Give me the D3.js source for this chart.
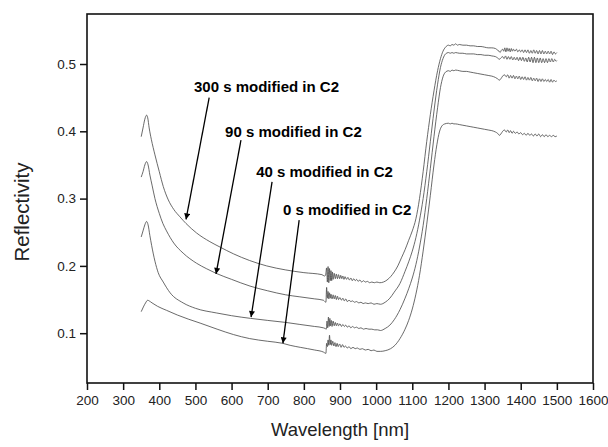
<!DOCTYPE html>
<html>
<head>
<meta charset="utf-8">
<script src="https://cdn.jsdelivr.net/npm/d3@7/dist/d3.min.js"></script>
<style>
  body { margin: 0; background: white; }
  svg { display: block; font-family: Arial, "Liberation Sans", sans-serif; }
</style>
</head>
<body>
<script>
// spectra, [wavelength nm, reflectivity]
const s300 = [
  [350, 0.392], [355, 0.405], [360, 0.418], [365, 0.424], [368, 0.420], [372, 0.405],
  [378, 0.388], [388, 0.365], [400, 0.340], [411, 0.318], [425, 0.298], [440, 0.284],
  [457, 0.273], [474, 0.263], [503, 0.249], [540, 0.236], [568, 0.228], [605, 0.218],
  [650, 0.208], [697, 0.200], [750, 0.194], [800, 0.190], [850, 0.187], [857, 0.185],
  [860, 0.186], [863, 0.197], [865, 0.176], [867, 0.199], [869, 0.175], [871, 0.196],
  [873, 0.178], [875, 0.193], [877, 0.178], [879, 0.191], [881, 0.180], [884, 0.189],
  [887, 0.181], [890, 0.188], [893, 0.181], [896, 0.187], [899, 0.181], [902, 0.186],
  [905, 0.181], [908, 0.185], [911, 0.180], [914, 0.184], [918, 0.180], [922, 0.183],
  [926, 0.179], [930, 0.182], [934, 0.178], [938, 0.181], [942, 0.178], [946, 0.180],
  [950, 0.177], [955, 0.179], [960, 0.176], [965, 0.178], [970, 0.176], [976, 0.177],
  [982, 0.175], [988, 0.176], [995, 0.175], [1002, 0.176], [1010, 0.175], [1020, 0.176],
  [1030, 0.179], [1040, 0.184], [1050, 0.191], [1060, 0.200], [1070, 0.212], [1080, 0.224],
  [1090, 0.238], [1100, 0.252], [1110, 0.270], [1120, 0.300], [1130, 0.340], [1140, 0.385],
  [1150, 0.425], [1160, 0.460], [1170, 0.490], [1178, 0.508], [1185, 0.519], [1192, 0.525],
  [1200, 0.528], [1205, 0.527], [1210, 0.529], [1215, 0.528], [1220, 0.530], [1225, 0.528],
  [1230, 0.529], [1240, 0.528], [1250, 0.528], [1260, 0.527], [1270, 0.527], [1280, 0.526],
  [1290, 0.526], [1300, 0.525], [1310, 0.524], [1320, 0.524], [1330, 0.523], [1335, 0.521],
  [1340, 0.519], [1343, 0.517], [1346, 0.520], [1350, 0.522], [1353, 0.519], [1356, 0.524],
  [1359, 0.518], [1362, 0.524], [1365, 0.519], [1368, 0.523], [1371, 0.518], [1374, 0.523],
  [1377, 0.519], [1380, 0.522], [1384, 0.519], [1388, 0.522], [1392, 0.518], [1396, 0.521],
  [1400, 0.518], [1404, 0.521], [1408, 0.517], [1412, 0.521], [1416, 0.517], [1420, 0.521],
  [1424, 0.516], [1428, 0.520], [1432, 0.516], [1436, 0.521], [1440, 0.516], [1444, 0.520],
  [1448, 0.515], [1452, 0.520], [1456, 0.515], [1460, 0.520], [1464, 0.515], [1468, 0.519],
  [1472, 0.515], [1476, 0.519], [1480, 0.515], [1484, 0.519], [1488, 0.514], [1492, 0.518],
  [1496, 0.515], [1500, 0.517]
]

const s90 = [
  [350, 0.332], [355, 0.340], [360, 0.350], [365, 0.355], [369, 0.350], [374, 0.335],
  [380, 0.320], [388, 0.300], [400, 0.278], [410, 0.263], [420, 0.252], [440, 0.234],
  [466, 0.219], [503, 0.204], [530, 0.196], [557, 0.189], [600, 0.180], [651, 0.170],
  [700, 0.163], [750, 0.157], [789, 0.154], [830, 0.151], [854, 0.149], [858, 0.147],
  [861, 0.146], [863, 0.168], [865, 0.152], [867, 0.162], [869, 0.151], [871, 0.160],
  [873, 0.152], [875, 0.158], [878, 0.151], [881, 0.157], [884, 0.151], [887, 0.156],
  [890, 0.150], [893, 0.155], [896, 0.150], [900, 0.153], [904, 0.149], [908, 0.152],
  [912, 0.148], [916, 0.151], [920, 0.147], [925, 0.149], [930, 0.147], [935, 0.148],
  [940, 0.146], [946, 0.147], [952, 0.145], [958, 0.146], [964, 0.144], [970, 0.145],
  [978, 0.144], [986, 0.145], [994, 0.143], [1002, 0.144], [1012, 0.143], [1025, 0.146],
  [1038, 0.152], [1050, 0.161], [1066, 0.174], [1080, 0.192], [1090, 0.206], [1100, 0.222],
  [1110, 0.242], [1120, 0.268], [1130, 0.300], [1140, 0.340], [1150, 0.385], [1160, 0.430],
  [1170, 0.470], [1178, 0.495], [1185, 0.508], [1192, 0.515], [1200, 0.517], [1205, 0.516],
  [1210, 0.517], [1215, 0.516], [1220, 0.517], [1230, 0.516], [1240, 0.516], [1250, 0.515],
  [1260, 0.515], [1270, 0.515], [1280, 0.514], [1290, 0.514], [1300, 0.513], [1310, 0.513],
  [1320, 0.512], [1330, 0.511], [1336, 0.509], [1341, 0.507], [1345, 0.509], [1350, 0.511],
  [1354, 0.508], [1358, 0.512], [1362, 0.507], [1366, 0.511], [1370, 0.507], [1374, 0.511],
  [1378, 0.506], [1382, 0.510], [1386, 0.506], [1390, 0.510], [1394, 0.505], [1398, 0.510],
  [1402, 0.505], [1406, 0.510], [1410, 0.504], [1414, 0.509], [1418, 0.503], [1422, 0.510],
  [1426, 0.503], [1430, 0.510], [1434, 0.502], [1438, 0.510], [1442, 0.502], [1446, 0.509],
  [1450, 0.502], [1454, 0.509], [1458, 0.502], [1462, 0.508], [1466, 0.502], [1470, 0.508],
  [1474, 0.502], [1478, 0.508], [1482, 0.503], [1486, 0.508], [1490, 0.503], [1494, 0.507],
  [1498, 0.504], [1500, 0.505]
]

const s40 = [
  [350, 0.243], [355, 0.252], [360, 0.261], [365, 0.266], [369, 0.261], [374, 0.245],
  [379, 0.230], [388, 0.207], [397, 0.190], [411, 0.176], [430, 0.160], [466, 0.145],
  [500, 0.137], [559, 0.130], [600, 0.126], [653, 0.122], [700, 0.119], [750, 0.116],
  [789, 0.113], [830, 0.110], [854, 0.108], [859, 0.107], [862, 0.106], [864, 0.118],
  [866, 0.108], [868, 0.124], [870, 0.110], [872, 0.122], [874, 0.111], [876, 0.119],
  [878, 0.110], [881, 0.118], [884, 0.111], [887, 0.116], [890, 0.111], [893, 0.115],
  [896, 0.111], [900, 0.114], [904, 0.110], [908, 0.113], [912, 0.110], [916, 0.112],
  [920, 0.109], [925, 0.111], [930, 0.108], [935, 0.110], [940, 0.108], [946, 0.109],
  [952, 0.107], [958, 0.108], [965, 0.106], [972, 0.107], [980, 0.106], [988, 0.106],
  [996, 0.105], [1004, 0.105], [1012, 0.104], [1025, 0.107], [1038, 0.112], [1050, 0.120],
  [1066, 0.135], [1080, 0.152], [1090, 0.166], [1100, 0.182], [1110, 0.202], [1120, 0.228],
  [1130, 0.260], [1140, 0.300], [1150, 0.345], [1160, 0.392], [1170, 0.435], [1178, 0.465],
  [1185, 0.481], [1192, 0.488], [1200, 0.490], [1205, 0.489], [1210, 0.491], [1215, 0.490],
  [1220, 0.491], [1230, 0.490], [1240, 0.489], [1250, 0.489], [1260, 0.488], [1270, 0.487],
  [1280, 0.486], [1290, 0.485], [1300, 0.484], [1310, 0.483], [1320, 0.482], [1330, 0.480],
  [1336, 0.478], [1341, 0.476], [1345, 0.478], [1350, 0.482], [1355, 0.484], [1360, 0.481],
  [1364, 0.484], [1368, 0.479], [1372, 0.483], [1376, 0.479], [1380, 0.483], [1384, 0.478],
  [1388, 0.482], [1392, 0.478], [1396, 0.482], [1400, 0.477], [1404, 0.481], [1408, 0.477],
  [1412, 0.481], [1416, 0.476], [1420, 0.480], [1424, 0.476], [1428, 0.480], [1432, 0.475],
  [1436, 0.479], [1440, 0.475], [1444, 0.479], [1448, 0.474], [1452, 0.478], [1456, 0.474],
  [1460, 0.478], [1464, 0.474], [1468, 0.477], [1472, 0.474], [1476, 0.477], [1480, 0.473],
  [1484, 0.477], [1488, 0.473], [1492, 0.476], [1496, 0.474], [1500, 0.475]
]

const s0 = [
  [350, 0.132], [356, 0.139], [362, 0.145], [368, 0.149], [372, 0.148], [380, 0.145],
  [395, 0.140], [420, 0.134], [450, 0.127], [480, 0.121], [513, 0.115], [560, 0.106],
  [605, 0.098], [650, 0.092], [700, 0.088], [741, 0.085], [762, 0.082], [790, 0.079],
  [830, 0.075], [854, 0.072], [857, 0.071], [861, 0.070], [863, 0.085], [865, 0.080],
  [867, 0.090], [869, 0.082], [871, 0.097], [873, 0.083], [875, 0.090], [877, 0.082],
  [880, 0.088], [883, 0.081], [886, 0.086], [889, 0.080], [892, 0.085], [895, 0.080],
  [899, 0.084], [903, 0.079], [907, 0.083], [911, 0.079], [915, 0.081], [920, 0.078],
  [925, 0.080], [930, 0.077], [936, 0.079], [942, 0.077], [948, 0.078], [955, 0.076],
  [962, 0.077], [970, 0.075], [978, 0.076], [986, 0.074], [994, 0.075], [1002, 0.073],
  [1012, 0.073], [1025, 0.074], [1040, 0.077], [1052, 0.082], [1066, 0.092], [1080, 0.106],
  [1090, 0.119], [1100, 0.136], [1110, 0.158], [1120, 0.186], [1130, 0.222], [1140, 0.262],
  [1150, 0.305], [1160, 0.350], [1168, 0.380], [1175, 0.399], [1182, 0.408], [1190, 0.411],
  [1200, 0.412], [1205, 0.411], [1210, 0.412], [1215, 0.411], [1220, 0.411], [1230, 0.410],
  [1240, 0.409], [1250, 0.408], [1260, 0.407], [1270, 0.406], [1280, 0.405], [1290, 0.404],
  [1300, 0.403], [1310, 0.402], [1320, 0.401], [1330, 0.399], [1336, 0.397], [1341, 0.394],
  [1345, 0.396], [1350, 0.400], [1355, 0.402], [1360, 0.399], [1364, 0.402], [1368, 0.398],
  [1372, 0.401], [1376, 0.397], [1380, 0.400], [1385, 0.397], [1390, 0.399], [1395, 0.396],
  [1400, 0.398], [1405, 0.395], [1410, 0.397], [1415, 0.394], [1420, 0.397], [1425, 0.394],
  [1430, 0.396], [1435, 0.393], [1440, 0.396], [1445, 0.393], [1450, 0.396], [1455, 0.392],
  [1460, 0.395], [1465, 0.392], [1470, 0.395], [1475, 0.392], [1480, 0.394], [1485, 0.392],
  [1490, 0.394], [1495, 0.392], [1500, 0.393]
]

// labels with arrows, in data units [nm, R]
const labels = ["300 s modified in C2", "90 s modified in C2", "40 s modified in C2", "0 s modified in C2"]
const labelAt = [[496, 0.459], [582, 0.392], [668, 0.332], [742, 0.275]]
const arrowFrom = [[538, 0.450], [626, 0.387], [712, 0.325], [787, 0.268]]
const arrowTo = [[474, 0.269], [557, 0.188], [654, 0.124], [742, 0.085]]

const xTicks = d3.range(200, 1601, 100)
const yTicks = [0.1, 0.2, 0.3, 0.4, 0.5]

// main
const width = 608,
  height = 447,
  mLeft = 87,
  mRight = 593,
  mTop = 14,
  mBottom = 383

const xSc = d3.scaleLinear().domain([200, 1600]).range([mLeft, mRight])
const ySc = d3.scaleLinear().domain([0.026, 0.5743]).range([mBottom, mTop])

const svg = d3.select("body")
  .append("svg")
  .attr("width", width)
  .attr("height", height)

svg.append("rect")
  .attr("width", "100%")
  .attr("height", "100%")
  .attr("fill", "white")

// curves
const line = d3.line()
  .x(d => xSc(d[0]))
  .y(d => ySc(d[1]))
  .curve(d3.curveMonotoneX)

svg.selectAll(".curve")
  .data([s300, s90, s40, s0])
  .join("path")
  .attr("class", "curve")
  .attr("d", line)
  .attr("fill", "none")
  .attr("stroke", "#444")
  .attr("stroke-width", 0.8)

// axes
const yAxis = svg.append("g")
  .attr("transform", `translate(${mLeft},0)`)
  .call(d3.axisLeft(ySc).tickValues(yTicks).tickSize(7).tickPadding(4).tickFormat(d3.format(".1f")))
const xAxis = svg.append("g")
  .attr("transform", `translate(0,${mBottom})`)
  .call(d3.axisBottom(xSc).tickValues(xTicks).tickSize(7).tickPadding(5).tickFormat(d3.format("d")))

;[yAxis, xAxis].forEach(ax => {
  ax.select(".domain").remove()
  ax.selectAll("line").attr("stroke", "#111").attr("stroke-width", 1.5)
  ax.selectAll("text")
    .attr("fill", "#222")
    .style("font-size", "13.5px")
    .style("font-family", "Arial, 'Liberation Sans', sans-serif")
})

// frame
svg.append("rect")
  .attr("x", mLeft)
  .attr("y", mTop)
  .attr("width", mRight - mLeft)
  .attr("height", mBottom - mTop)
  .attr("fill", "none")
  .attr("stroke", "#111")
  .attr("stroke-width", 1.6)

// axis titles
svg.append("text")
  .text("Wavelength [nm]")
  .attr("x", (mLeft + mRight) / 2)
  .attr("y", 436)
  .attr("text-anchor", "middle")
  .style("font-size", "18.5px")
  .attr("fill", "#222")

svg.append("text")
  .text("Reflectivity")
  .attr("transform", "translate(29,212) rotate(-90)")
  .attr("text-anchor", "middle")
  .style("font-size", "20.5px")
  .attr("fill", "#222")

// arrow head
svg.append("defs")
  .append("marker")
  .attr("id", "head")
  .attr("viewBox", "0 0 10 10")
  .attr("refX", 10)
  .attr("refY", 5)
  .attr("markerWidth", 11)
  .attr("markerHeight", 6)
  .attr("markerUnits", "userSpaceOnUse")
  .attr("orient", "auto")
  .append("path")
  .attr("d", "M0,0L10,5L0,10z")
  .attr("fill", "#000")

labels.forEach((t, i) => {
  svg.append("text")
    .text(t)
    .attr("x", xSc(labelAt[i][0]))
    .attr("y", ySc(labelAt[i][1]))
    .style("font-size", "15px")
    .style("font-weight", "bold")
    .attr("fill", "#000")
  svg.append("line")
    .attr("x1", xSc(arrowFrom[i][0]))
    .attr("y1", ySc(arrowFrom[i][1]))
    .attr("x2", xSc(arrowTo[i][0]))
    .attr("y2", ySc(arrowTo[i][1]))
    .attr("stroke", "#000")
    .attr("stroke-width", 1.3)
    .attr("marker-end", "url(#head)")
})
</script>
</body>
</html>
